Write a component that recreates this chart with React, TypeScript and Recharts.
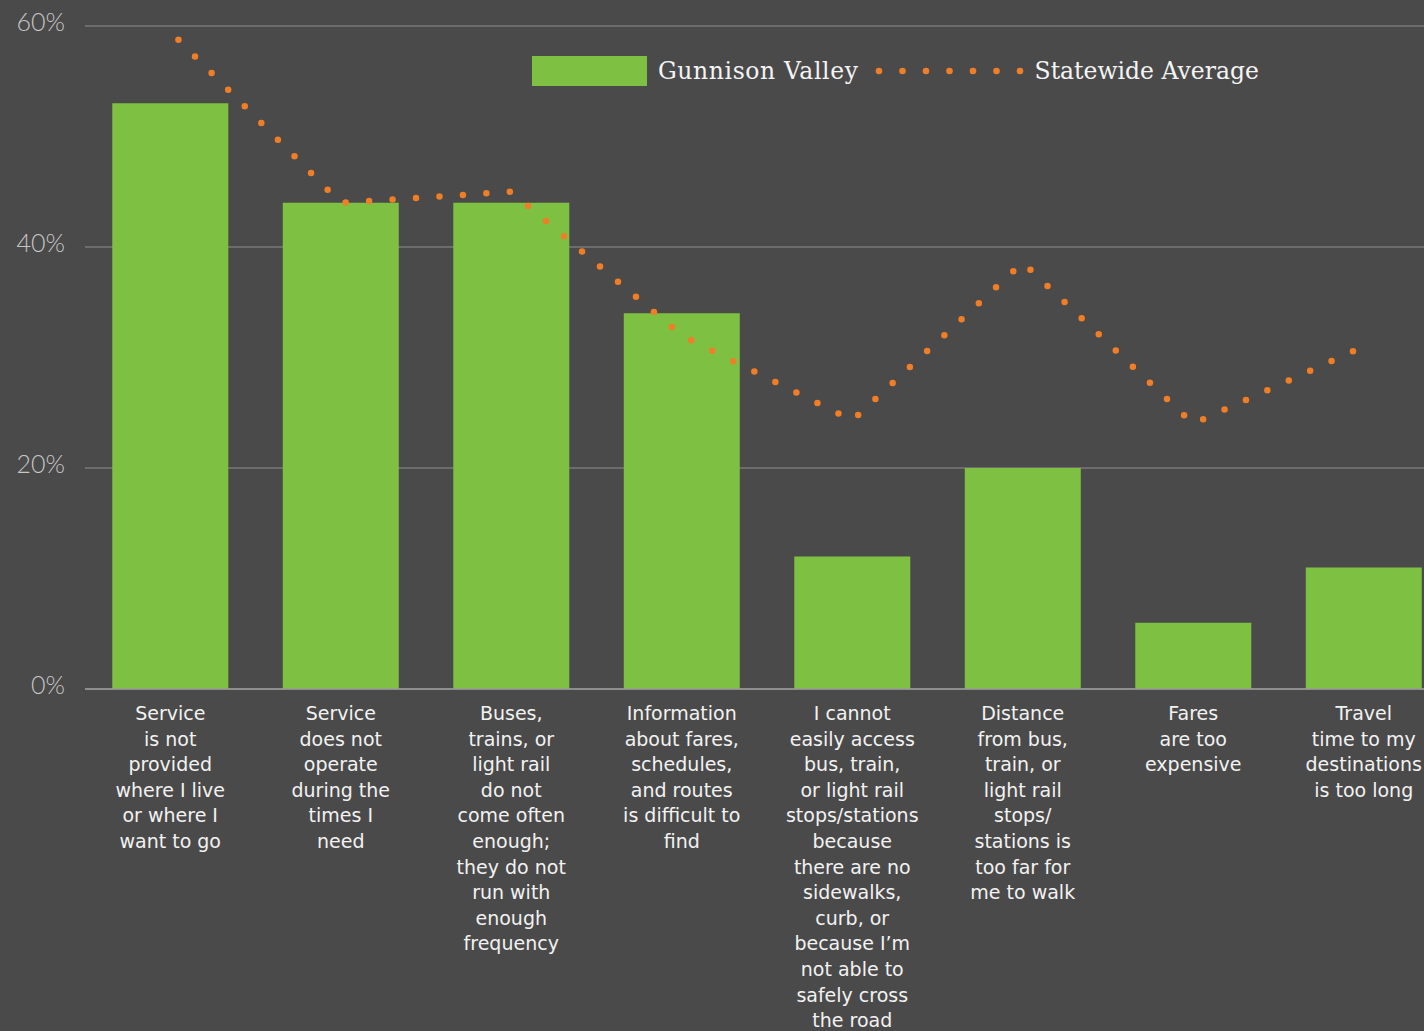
import React from 'react';
import { ComposedChart, Bar, Line, XAxis, YAxis, CartesianGrid, Legend } from 'recharts';

// Survey barriers (x-axis), one line per label row
const categories = [
  'Service\nis not\nprovided\nwhere I live\nor where I\nwant to go',
  'Service\ndoes not\noperate\nduring the\ntimes I\nneed',
  'Buses,\ntrains, or\nlight rail\ndo not\ncome often\nenough;\nthey do not\nrun with\nenough\nfrequency',
  'Information\nabout fares,\nschedules,\nand routes\nis difficult to\nfind',
  'I cannot\neasily access\nbus, train,\nor light rail\nstops/stations\nbecause\nthere are no\nsidewalks,\ncurb, or\nbecause I’m\nnot able to\nsafely cross\nthe road',
  'Distance\nfrom bus,\ntrain, or\nlight rail\nstops/\nstations is\ntoo far for\nme to walk',
  'Fares\nare too\nexpensive',
  'Travel\ntime to my\ndestinations\nis too long',
];

const gunnisonValley = [53, 44, 44, 34, 12, 20, 6, 11];
const statewideAverage = [59.5, 44, 45, 32, 24.3, 38.6, 24, 31];
const yTicks = [0, 20, 40, 60];

const data = categories.map((name, i) => ({
  name,
  gunnison: gunnisonValley[i],
  statewide: statewideAverage[i],
}));

const BG = '#4a4a4a';
const GREEN = '#7ec142';
const ORANGE = '#f07e26';

const CategoryTick = (props: any) => {
  const { x, y, payload } = props;
  const lines = String(payload.value).split('\n');
  return (
    <text
      x={x}
      y={y}
      textAnchor="middle"
      fill="#f2f2f2"
      fontFamily="'DejaVu Sans', sans-serif"
      fontSize={19}
    >
      {lines.map((line, i) => (
        <tspan key={i} x={x} dy={i === 0 ? 23 : 25.6}>
          {line}
        </tspan>
      ))}
    </text>
  );
};

const PercentTick = (props: any) => {
  const { x, y, payload } = props;
  return (
    <text
      x={x}
      y={y}
      dy={5}
      textAnchor="end"
      fill="#c6c6c6"
      fontFamily="Lato, sans-serif"
      fontWeight={300}
      fontSize={25}
    >
      {`${payload.value}%`}
    </text>
  );
};

const LegendBox = () => (
  <div
    style={{
      display: 'flex',
      alignItems: 'center',
      fontFamily: "'DejaVu Serif', serif",
      fontSize: 23.5,
      color: '#f4f4f4',
      whiteSpace: 'nowrap',
    }}
  >
    <div style={{ width: 115, height: 30, background: GREEN, marginRight: 11 }} />
    <span style={{ letterSpacing: 0.6 }}>Gunnison Valley</span>
    <svg width={168} height={14} style={{ margin: '0 0 0 8px' }}>
      {[0, 1, 2, 3, 4, 5, 6].map((i) => (
        <circle key={i} cx={12 + i * 23.5} cy={7} r={3.3} fill={ORANGE} />
      ))}
    </svg>
    <span>Statewide Average</span>
  </div>
);

export default function App() {
  return (
    <div
      style={{
        position: 'fixed',
        top: 0,
        left: 0,
        width: 1424,
        height: 1031,
        overflow: 'hidden',
        background: BG,
      }}
    >
      <ComposedChart
        width={1460}
        height={1031}
        data={data}
        margin={{ top: 26, right: 11, bottom: 0, left: 0 }}
        barCategoryGap="16%"
      >
        <CartesianGrid vertical={false} stroke="#8e8e8e" />
        <XAxis
          dataKey="name"
          interval={0}
          height={342}
          tickLine={false}
          axisLine={{ stroke: '#9a9a9a', strokeWidth: 1.5 }}
          tick={<CategoryTick />}
        />
        <YAxis
          width={85}
          domain={[0, 60]}
          ticks={yTicks}
          axisLine={false}
          tickLine={false}
          tickSize={0}
          tickMargin={20}
          tick={<PercentTick />}
        />
        <Legend
          layout="horizontal"
          verticalAlign="middle"
          content={<LegendBox />}
          wrapperStyle={{ top: 56, left: 532, width: 'auto' }}
        />
        <Bar dataKey="gunnison" fill={GREEN} isAnimationActive={false} />
        <Line
          type="linear"
          dataKey="statewide"
          stroke={ORANGE}
          strokeWidth={6.5}
          strokeDasharray="0 23.5"
          strokeDashoffset={11.9}
          strokeLinecap="round"
          dot={false}
          activeDot={false}
          isAnimationActive={false}
        />
      </ComposedChart>
    </div>
  );
}
